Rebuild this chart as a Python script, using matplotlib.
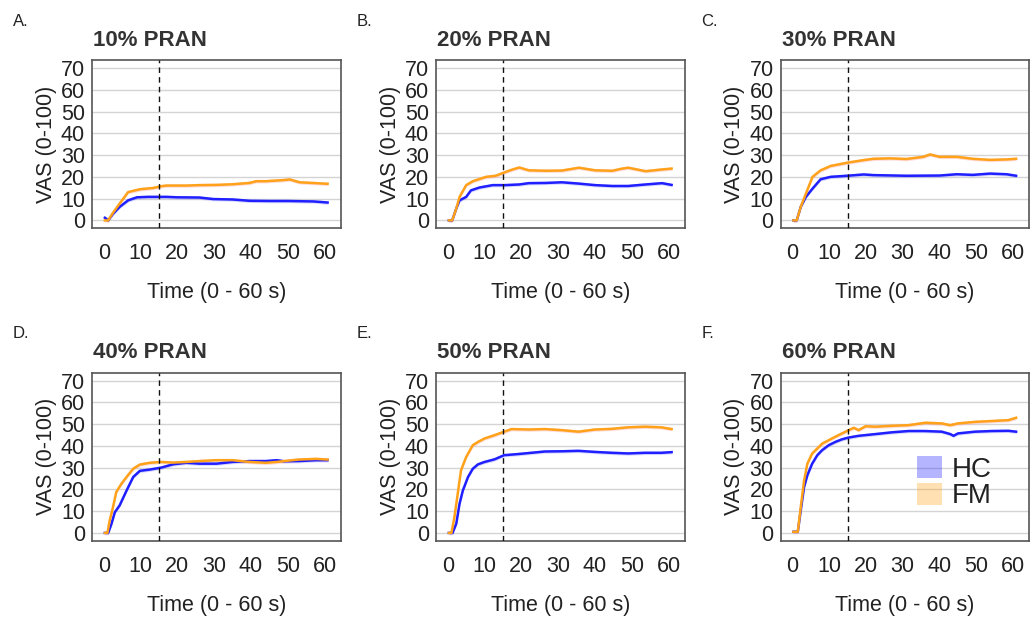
import matplotlib
matplotlib.use("Agg")
import matplotlib.pyplot as plt
from matplotlib.patches import Patch
import numpy as np

# ---------------- data ----------------
panel_letters = ["A.", "B.", "C.", "D.", "E.", "F."]
panel_titles = ["10% PRAN", "20% PRAN", "30% PRAN", "40% PRAN", "50% PRAN", "60% PRAN"]
group_labels = ["HC", "FM"]
x_ticks = [0, 10, 20, 30, 40, 50, 60]
y_ticks = [0, 10, 20, 30, 40, 50, 60, 70]
marker_time = 15

A_hc_t = [0.3, 1.2, 2.5, 4.3, 6.6, 9.0, 12, 17, 20, 26, 29.7, 35, 39.6, 45, 50, 57, 60.8]
A_hc_v = [1.2, 0, 3.0, 6.2, 9.2, 10.6, 10.8, 10.8, 10.6, 10.5, 9.8, 9.6, 9.0, 8.9, 8.9, 8.7, 8.2]
A_fm_t = [0.3, 1.2, 2.5, 4.3, 6.6, 9.8, 13.4, 15.6, 17, 22.4, 26, 30.6, 35, 39.6, 41.4, 44, 48.7, 50.5, 53.2, 57.7, 60.8]
A_fm_v = [0, 0, 3.5, 7.7, 13, 14.3, 14.9, 15.7, 16, 16, 16.2, 16.3, 16.6, 17.2, 18, 18, 18.5, 18.8, 17.5, 17.1, 16.8]

B_hc_t = [0.3, 1.2, 2.3, 3.2, 5, 6.3, 8.6, 12.2, 15.6, 19.4, 22, 26.6, 31, 35.6, 40, 44.7, 49, 53.7, 58.2, 60.8]
B_hc_v = [0, 0, 5.4, 9.2, 10.8, 13.8, 15.1, 16.2, 16.2, 16.5, 17.1, 17.2, 17.5, 16.9, 16.2, 15.8, 15.8, 16.5, 17.1, 16.3]
B_fm_t = [0.3, 1.2, 2.3, 3.2, 5, 6.8, 10.4, 13, 15.8, 17.6, 19.4, 22, 26.6, 31, 35.6, 40, 44.7, 47.4, 49, 53.7, 58.2, 60.8]
B_fm_v = [0, 0, 5.4, 10.8, 16.2, 18, 20, 20.5, 22.3, 23.4, 24.3, 23, 22.8, 22.9, 24.2, 23, 22.8, 23.8, 24.2, 22.6, 23.4, 23.8]

C_hc_t = [0.3, 1.2, 2.3, 3.7, 5.5, 7.7, 10.4, 14.9, 19.4, 22, 31, 40, 44.7, 49, 53.7, 58.2, 60.8]
C_hc_v = [0, 0, 6.2, 10.8, 14.6, 18.9, 20, 20.5, 21.1, 20.8, 20.5, 20.6, 21.2, 20.9, 21.5, 21.2, 20.5]
C_fm_t = [0.3, 1.2, 2.3, 3.7, 5.5, 7.7, 10.4, 14.9, 19.4, 22, 26.6, 31, 35.6, 37.4, 40, 44.7, 49, 53.7, 58.2, 60.8]
C_fm_v = [0, 0, 6.2, 12.3, 20, 23, 25, 26.5, 27.7, 28.3, 28.5, 28.2, 29.2, 30.3, 29.2, 29.2, 28.3, 27.8, 28, 28.3]

D_hc_t = [0.3, 1.2, 2.1, 3, 4.3, 6.2, 8, 9.8, 12.5, 15.6, 18.8, 22.4, 26, 30.6, 35, 39.6, 44, 47, 49, 53, 57.7, 60.8]
D_hc_v = [0, 0, 4.2, 9.5, 12.6, 19.5, 25.7, 28.5, 29.1, 30, 31.5, 32.2, 31.8, 31.8, 32.6, 33, 33, 33.4, 32.9, 33, 33.4, 33.4]
D_fm_t = [0.3, 1.0, 1.6, 2.5, 3.4, 4.8, 6.2, 8, 9.8, 12.5, 15.6, 18.8, 22.4, 26, 30.6, 35, 39.6, 44, 47, 49, 52.9, 57.7, 60.8]
D_fm_v = [0, 0, 5.7, 11.8, 18.8, 22.6, 25.7, 29.5, 31.4, 32.2, 32.6, 32.3, 32.6, 33, 33.4, 33.4, 32.6, 32.2, 32.6, 33, 33.7, 34, 33.7]

E_hc_t = [0.3, 1.3, 2.3, 3.2, 4.1, 5.5, 6.8, 8.2, 10, 12.7, 15.3, 19, 22.7, 26.4, 31, 35.5, 40, 44.5, 49, 53.6, 58, 60.8]
E_hc_v = [0, 0, 4.2, 13.4, 19.5, 25.7, 29.5, 31.5, 32.6, 33.8, 35.7, 36.2, 36.8, 37.4, 37.5, 37.7, 37.2, 36.8, 36.5, 36.8, 36.8, 37.1]
E_fm_t = [0.3, 1.0, 1.8, 2.7, 3.6, 5, 6.8, 8.2, 10, 12.7, 15.3, 17.3, 22, 26.4, 31, 35.5, 40, 44.5, 49, 53.6, 58, 60.8]
E_fm_v = [0, 0, 7.2, 18, 28.8, 34.9, 40.3, 41.8, 43.4, 44.9, 46.5, 47.7, 47.5, 47.7, 47.2, 46.5, 47.5, 47.8, 48.5, 48.8, 48.5, 47.7]

F_hc_t = [0.3, 1.5, 2.3, 3.2, 4.1, 5.4, 6.8, 8.1, 9.9, 11.7, 13.5, 15.3, 18, 22.6, 27, 31.6, 36, 40.6, 42.9, 43.8, 45, 49.6, 54.2, 58.7, 60.8]
F_hc_v = [0.5, 0.5, 10.3, 21, 26.5, 31.8, 35.7, 38, 40.3, 41.8, 43, 43.8, 44.6, 45.4, 46.2, 46.8, 46.8, 46.5, 45.4, 44.6, 45.7, 46.5, 46.8, 46.9, 46.5]
F_fm_t = [0.3, 1.5, 2.3, 3.2, 4.1, 5.4, 6.8, 8.1, 9.9, 11.7, 13.5, 15.3, 16.7, 18, 19.9, 22.6, 27, 31.6, 36.1, 40.6, 42.9, 45, 49.6, 54.2, 58.7, 60.8]
F_fm_v = [0.5, 0.5, 11.8, 24, 31.8, 36.5, 38.8, 41, 42.6, 44.2, 45.7, 47.2, 48.3, 47.2, 49, 48.8, 49.2, 49.5, 50.6, 50.3, 49.5, 50.3, 51, 51.4, 51.8, 52.9]

ribbon_half = 0.8

series = [
    (A_hc_t, A_hc_v, A_fm_t, A_fm_v),
    (B_hc_t, B_hc_v, B_fm_t, B_fm_v),
    (C_hc_t, C_hc_v, C_fm_t, C_fm_v),
    (D_hc_t, D_hc_v, D_fm_t, D_fm_v),
    (E_hc_t, E_hc_v, E_fm_t, E_fm_v),
    (F_hc_t, F_hc_v, F_fm_t, F_fm_v),
]

# ---------------- style ----------------
plt.rcParams['font.family'] = ['Liberation Sans', 'DejaVu Sans']
HC_COL = '#1f1fff'
FM_COL = '#ffa21a'
HC_RIB = '#8080ff'
FM_RIB = '#ff9a9a'
TXT = '#222222'

W, H = 1035, 617
fig = plt.figure(figsize=(W / 100, H / 100), dpi=100)

col_left = [92, 436, 780.5]
row_top = [60, 372.5]
ax_w, ax_h = 248.5, 168

for i in range(6):
    r, c = divmod(i, 3)
    l = col_left[c]
    t = row_top[r]
    ax = fig.add_axes([l / W, 1 - (t + ax_h) / H, ax_w / W, ax_h / H])
    hc_t, hc_v, fm_t, fm_v = series[i]
    hc_v = np.asarray(hc_v, float)
    fm_v = np.asarray(fm_v, float)

    for yt in y_ticks:
        ax.axhline(yt, color='#d4d4d4', lw=1.0, zorder=0)

    ax.fill_between(hc_t, hc_v - ribbon_half, hc_v + ribbon_half, color=HC_RIB, alpha=0.3, lw=0, zorder=1)
    ax.fill_between(fm_t, fm_v - ribbon_half, fm_v + ribbon_half, color=FM_RIB, alpha=0.35, lw=0, zorder=1)
    ax.plot(hc_t, hc_v, color=HC_COL, lw=1.8, zorder=3)
    ax.plot(fm_t, fm_v, color=FM_COL, lw=1.8, zorder=3)
    ax.axvline(marker_time, color='#111111', lw=1.0, ls=(0, (4, 3)), zorder=4)

    ax.set_xlim(-3.2, 64.3)
    ax.set_ylim(-3.5, 73.7)
    ax.set_xticks(x_ticks)
    ax.set_yticks(y_ticks)
    ax.tick_params(length=0, labelsize=15.5, colors=TXT)
    ax.tick_params(axis='x', pad=11)
    ax.tick_params(axis='y', pad=5)
    for s in ax.spines.values():
        s.set_color('#555555')
        s.set_linewidth(1.2)
    ax.set_xlabel('Time (0 - 60 s)', fontsize=15.5, color=TXT, labelpad=13)
    ax.set_ylabel('VAS (0-100)', fontsize=15.5, color=TXT, labelpad=3)

    ax.text(0.005, 1 + 20 / ax_h, panel_titles[i], transform=ax.transAxes,
            ha='left', va='center', fontsize=16, fontweight='bold', color='#333333')
    fig.text((l - 79) / W, 1 - (t - 39) / H, panel_letters[i], ha='left', va='center',
             fontsize=12, color=TXT)

    if i == 5:
        handles = [Patch(facecolor=HC_COL, alpha=0.33, lw=0),
                   Patch(facecolor=FM_COL, alpha=0.33, lw=0)]
        leg = ax.legend(handles, group_labels, loc='upper left',
                        bbox_to_anchor=((917 - l) / ax_w, 1 - (456 - t) / ax_h),
                        frameon=False, fontsize=20, handlelength=0.9, handleheight=0.85,
                        handletextpad=0.35, labelspacing=0.0, borderaxespad=0, borderpad=0)
        for txt in leg.get_texts():
            txt.set_color(TXT)

fig.savefig('out.png', dpi=100)
